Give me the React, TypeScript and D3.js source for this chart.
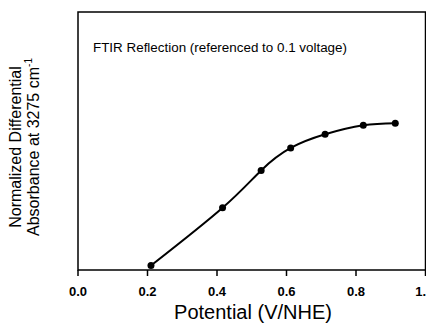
import React, { useEffect, useRef } from 'react';
import * as d3 from 'd3';

// data (y in arbitrary normalized units)
const potential = [0.21, 0.416, 0.527, 0.612, 0.711, 0.821, 0.913];
const absorbance = [0.017, 0.241, 0.386, 0.473, 0.526, 0.561, 0.569];
const xTicks = [0.0, 0.2, 0.4, 0.6, 0.8, 1.0];
const xTickLabels = ['0.0', '0.2', '0.4', '0.6', '0.8', '1.0'];

const App: React.FC = () => {
  const svgRef = useRef<SVGSVGElement | null>(null);

  useEffect(() => {
    if (!svgRef.current) return;
    const height = 323;
    const margin = { top: 12, right: 0, bottom: 53, left: 78 };
    const svg = d3.select(svgRef.current);
    svg.selectAll('*').remove();

    const font = 'Liberation Sans, Arial, sans-serif';
    const x = d3.scaleLinear().domain([0, 1]).range([margin.left, 425.5]);
    const y = d3.scaleLinear().domain([0, 1]).range([height - margin.bottom, margin.top]);

    const g = svg.append('g');

    // frame
    g.append('rect')
      .attr('x', margin.left).attr('y', margin.top)
      .attr('width', x(1) - margin.left).attr('height', y(0) - margin.top)
      .attr('fill', 'none').attr('stroke', '#000').attr('stroke-width', 1.5);

    // bottom ticks (outward)
    xTicks.forEach((t, i) => {
      g.append('line')
        .attr('x1', x(t)).attr('x2', x(t))
        .attr('y1', y(0)).attr('y2', y(0) + 6)
        .attr('stroke', '#000').attr('stroke-width', 1.5);
      const last = i === xTicks.length - 1;
      g.append('text')
        .attr('x', last ? 426 : x(t)).attr('y', 296)
        .attr('text-anchor', last ? 'end' : 'middle')
        .attr('font-family', font).attr('font-size', 13).attr('font-weight', 'bold')
        .text(last ? '1.' : xTickLabels[i]);
    });

    // curve
    const pts = potential.map((p, i) => [p, absorbance[i]] as [number, number]);
    const line = d3.line<[number, number]>()
      .x(d => x(d[0])).y(d => y(d[1]))
      .curve(d3.curveNatural);
    g.append('path').datum(pts).attr('d', line)
      .attr('fill', 'none').attr('stroke', '#000').attr('stroke-width', 2);
    g.selectAll('circle.pt').data(pts).enter().append('circle')
      .attr('cx', d => x(d[0])).attr('cy', d => y(d[1])).attr('r', 3.5).attr('fill', '#000');

    // annotation
    g.append('text')
      .attr('x', 93).attr('y', 52)
      .attr('font-family', font).attr('font-size', 12.5)
      .attr('textLength', 254).attr('lengthAdjust', 'spacingAndGlyphs')
      .text('FTIR Reflection (referenced to 0.1 voltage)');

    // x label
    g.append('text')
      .attr('x', 253).attr('y', 319)
      .attr('text-anchor', 'middle')
      .attr('font-family', font).attr('font-size', 20)
      .text('Potential (V/NHE)');

    // y label
    const yl = g.append('text')
      .attr('transform', 'translate(0,147) rotate(-90)')
      .attr('text-anchor', 'middle')
      .attr('font-family', font).attr('font-size', 16);
    yl.append('tspan').attr('x', 0).attr('y', 21).text('Normalized Differential');
    const l2 = yl.append('tspan').attr('x', 0).attr('y', 39);
    l2.append('tspan').text('Absorbance at 3275 cm');
    l2.append('tspan').attr('dy', -7).attr('font-size', 10).text('-1');
  }, []);

  return (
    <svg ref={svgRef} width={426} height={323}
      style={{ position: 'absolute', left: 0, top: 0, background: '#fff' }} />
  );
};

export default App;
